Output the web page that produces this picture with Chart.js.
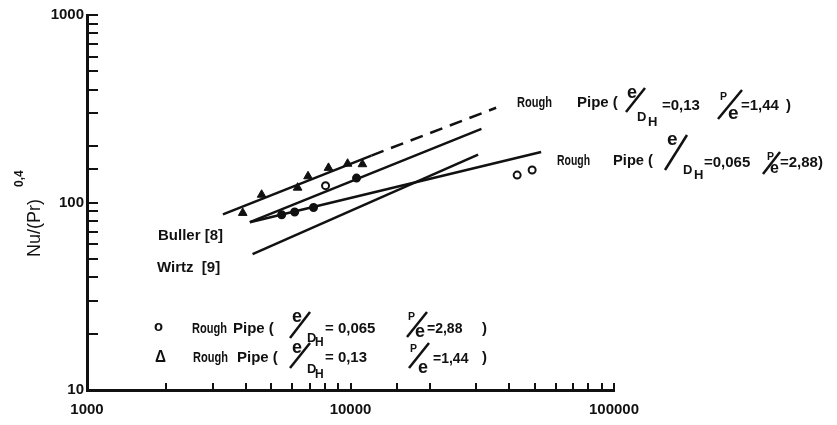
<!DOCTYPE html>
<html>
<head>
<meta charset="utf-8">
<script src="https://cdn.jsdelivr.net/npm/chart.js@4"></script>
<style>
  body { margin: 0; background: #fff; }
</style>
</head>
<body>
<canvas id="nuChart" width="837" height="425"></canvas>
<script>
// axis labels
const xTickLabels = [1000, 10000, 100000];
const yTickLabels = [10, 100, 1000];

// measured points, rough pipe e/DH=0.13 (triangles)
const triRe = [3900, 4600, 6300, 6900, 8250, 9750, 11100];
const triNu = [88, 110, 120, 138, 153, 161, 160];
// measured points, rough pipe e/DH=0.065 (circles)
const circRe = [5480, 6140, 7240, 8040, 10540, 42900, 48900];
const circNu = [86, 89, 94, 123, 135, 140, 149];

// correlation lines (start, end)
const roughSolidRe = [3280, 12000];
const roughSolidNu = [86.5, 178];
const roughDashRe = [12000, 35700];
const roughDashNu = [178, 320];
const bullerRe = [4150, 31400];
const bullerNu = [78.5, 247];
const roughLowRe = [4150, 52900];
const roughLowNu = [78.5, 186];
const wirtzRe = [4250, 30500];
const wirtzNu = [53, 180];

const ink = '#111';
const FONT = '"Liberation Sans", Arial, sans-serif';
const circFill = [ink, ink, ink, '#fff', ink, '#fff', '#fff'];

const pts = (xs, ys) => xs.map((x, i) => ({ x: x, y: ys[i] }));
const line = (xs, ys, dash) => ({
  data: pts(xs, ys),
  showLine: true,
  pointRadius: 0,
  borderColor: ink,
  borderWidth: 2.5,
  borderDash: dash || [],
  fill: false
});

// text run: text, x, baseline, size, maxWidth
function txt(ctx, t, x, y, size, w) {
  ctx.font = 'bold ' + size + 'px ' + FONT;
  if (w) ctx.fillText(t, x, y, w); else ctx.fillText(t, x, y);
}
function slash(ctx, x1, y1, x2, y2) {
  ctx.beginPath();
  ctx.moveTo(x1, y1);
  ctx.lineTo(x2, y2);
  ctx.stroke();
}

const labelsPlugin = {
  id: 'labels',
  afterDraw(chart) {
    const ctx = chart.ctx;
    ctx.save();
    ctx.fillStyle = ink;
    ctx.strokeStyle = ink;
    ctx.lineWidth = 2.5;
    ctx.textAlign = 'left';
    ctx.textBaseline = 'alphabetic';

    // upper label
    txt(ctx, 'Rough', 517, 107, 15, 35);
    txt(ctx, 'Pipe (', 577, 107, 15, 43);
    txt(ctx, 'e', 627, 98, 18, 11);
    slash(ctx, 626, 112, 645, 88);
    txt(ctx, 'D', 637, 121, 13, 10);
    txt(ctx, 'H', 648, 126, 13, 11);
    txt(ctx, '=0,13', 662, 110, 15, 40);
    txt(ctx, 'P', 720, 100, 11, 7);
    slash(ctx, 718, 119, 742, 90);
    txt(ctx, 'e', 728, 119, 19, 14);
    txt(ctx, '=1,44', 741, 110, 15, 40);
    txt(ctx, ')', 786, 110, 15);

    // lower label
    txt(ctx, 'Rough', 557, 165, 15, 33);
    txt(ctx, 'Pipe (', 613, 165, 15, 40);
    txt(ctx, 'e', 667, 145, 19, 13);
    slash(ctx, 665, 170, 687, 135);
    txt(ctx, 'D', 683, 174, 13, 11);
    txt(ctx, 'H', 694, 179, 13, 12);
    txt(ctx, '=0,065', 704, 167, 15, 53);
    txt(ctx, 'P', 767, 160, 11, 7);
    slash(ctx, 763, 174, 780, 152);
    txt(ctx, 'e', 770, 173, 16, 12);
    txt(ctx, '=2,88)', 780, 167, 15, 56);

    // references
    txt(ctx, 'Buller [8]', 158, 240, 15, 72);
    txt(ctx, 'Wirtz  [9]', 157, 272, 15, 73);

    // key
    txt(ctx, 'o', 154, 331, 15, 9);
    txt(ctx, 'Rough', 192, 333, 15, 35);
    txt(ctx, 'Pipe (', 233, 333, 15, 45);
    txt(ctx, 'e', 292, 322, 18, 13);
    slash(ctx, 290, 338, 310, 312);
    txt(ctx, 'D', 307, 342, 13, 10);
    txt(ctx, 'H', 315, 346, 12, 10);
    txt(ctx, '= 0,065', 325, 333, 15, 67);
    txt(ctx, 'P', 408, 320, 11, 7);
    slash(ctx, 407, 337, 427, 312);
    txt(ctx, 'e', 415, 337, 18, 13);
    txt(ctx, '=2,88', 427, 333, 14, 46);
    txt(ctx, ')', 482, 333, 15);

    txt(ctx, 'Δ', 155, 362, 16, 11);
    txt(ctx, 'Rough', 193, 362, 15, 35);
    txt(ctx, 'Pipe (', 237, 362, 15, 45);
    txt(ctx, 'e', 292, 353, 18, 13);
    slash(ctx, 290, 368, 310, 343);
    txt(ctx, 'D', 307, 373, 13, 10);
    txt(ctx, 'H', 315, 378, 12, 10);
    txt(ctx, '= 0,13', 325, 362, 15, 42);
    txt(ctx, 'P', 410, 352, 11, 7);
    slash(ctx, 409, 368, 429, 343);
    txt(ctx, 'e', 418, 373, 18, 13);
    txt(ctx, '=1,44', 433, 363, 14, 40);
    txt(ctx, ')', 482, 362, 15);

    // y axis title
    ctx.translate(40, 257);
    ctx.rotate(-Math.PI / 2);
    ctx.font = '18px ' + FONT;
    ctx.fillText('Nu/(Pr)', 0, 0, 68);
    ctx.font = 'bold 12px ' + FONT;
    ctx.fillText('0,4', 70, -17, 17);
    ctx.restore();
  }
};

new Chart(document.getElementById('nuChart'), {
  type: 'scatter',
  data: {
    datasets: [
      { data: pts(triRe, triNu), pointStyle: 'triangle', pointRadius: 5, backgroundColor: ink, borderColor: ink, borderWidth: 1 },
      { data: pts(circRe, circNu), pointStyle: 'circle', pointRadius: 3.5, backgroundColor: circFill, borderColor: ink, borderWidth: 2 },
      line(roughSolidRe, roughSolidNu),
      line(roughDashRe, roughDashNu, [13, 8]),
      line(bullerRe, bullerNu),
      line(roughLowRe, roughLowNu),
      line(wirtzRe, wirtzNu)
    ]
  },
  options: {
    responsive: false,
    animation: false,
    devicePixelRatio: 1,
    layout: { padding: { top: 15, left: 0, right: 223, bottom: 0 } },
    plugins: { legend: { display: false }, tooltip: { enabled: false } },
    scales: {
      x: {
        type: 'logarithmic',
        min: 1000,
        max: 100000,
        border: { display: true, color: ink, width: 3 },
        grid: { drawOnChartArea: false, drawTicks: true, tickLength: -7, color: ink, lineWidth: 2 },
        ticks: {
          autoSkip: false,
          maxRotation: 0,
          padding: 18,
          color: ink,
          font: { family: FONT, size: 15, weight: 'bold' },
          callback: v => xTickLabels.includes(v) ? String(v) : ''
        },
        afterFit: s => { s.height = 35; }
      },
      y: {
        type: 'logarithmic',
        min: 10,
        max: 1000,
        border: { display: true, color: ink, width: 3 },
        grid: { drawOnChartArea: false, drawTicks: true, tickLength: -11, color: ink, lineWidth: 2 },
        ticks: {
          autoSkip: false,
          padding: 14,
          color: ink,
          font: { family: FONT, size: 15, weight: 'bold' },
          callback: v => yTickLabels.includes(v) ? String(v) : ''
        },
        afterFit: s => { s.width = 87; s.paddingTop = 0; s.paddingBottom = 0; }
      }
    }
  },
  plugins: [labelsPlugin]
});
</script>
</body>
</html>
